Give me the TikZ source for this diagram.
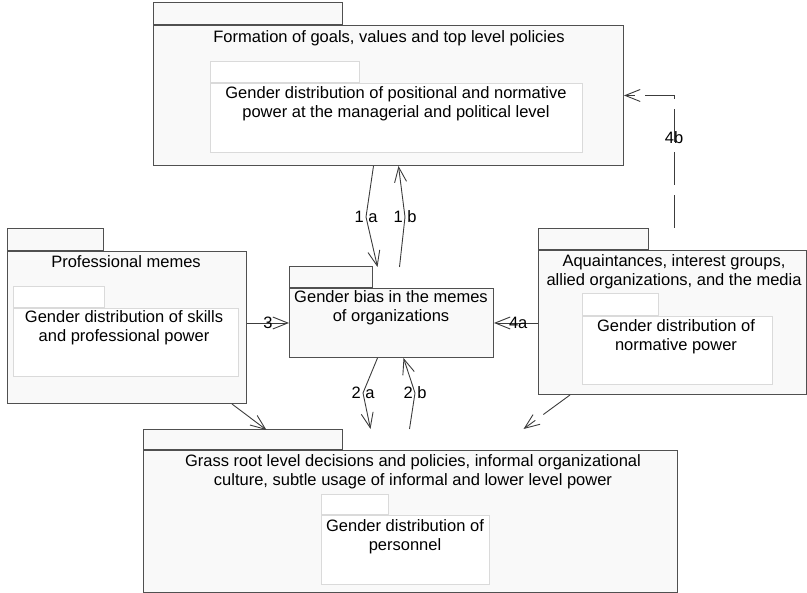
\documentclass[tikz,border=0pt]{standalone}
\usepackage{fontspec}
\setmainfont{Liberation Sans}
\usetikzlibrary{arrows.meta,calc}
\definecolor{pkgfill}{HTML}{F9F9F9}
\definecolor{pkgline}{HTML}{505050}
\definecolor{innerln}{HTML}{DADADA}
\definecolor{connln}{HTML}{3C3C3C}
\tikzset{
  outerb/.style  = {draw=pkgline, fill=pkgfill, line width=1pt, inner sep=0pt},
  innerb/.style  = {draw=innerln, fill=white, line width=1pt, inner sep=0pt},
  txt/.style     = {align=center, inner sep=0pt, font=\fontsize{16.5}{19}\selectfont},
  tag/.style     = {inner sep=0pt, font=\fontsize{16.5}{19}\selectfont},
  ar/.style      = {-{Straight Barb[length=15pt,width=12pt]}, draw=connln, line width=0.9pt},
  dashar/.style  = {ar, dash pattern=on 33pt off 10pt},
}

\begin{document}
\begin{tikzpicture}[x=1pt,y=-1pt]
\useasboundingbox (0,0) rectangle (807,593);

% \pkg{style}{name}{left}{tab top}{tab right}{body top}{right}{bottom}
\def\pkg#1#2#3#4#5#6#7#8{
  \draw[#1] (#3,#4) rectangle (#5,#6);
  \node[#1, anchor=north west, minimum width={(#7-#3)*1pt},
        minimum height={(#8-#6)*1pt}] (#2) at (#3,#6) {};}

% -- packages ----------------------------------------------------------------
\pkg{outerb}{goals}{153}{3}{342}{25}{623}{165}
\pkg{innerb}{goalsin}{210}{62}{359}{83}{582}{152}
\pkg{outerb}{memes}{7}{229}{103}{251}{246}{403}
\pkg{innerb}{memesin}{13}{287}{104}{308}{238}{376}
\pkg{outerb}{bias}{289}{267}{372}{288}{493}{357}
\pkg{outerb}{media}{538}{229}{648}{250}{806}{394}
\pkg{innerb}{mediain}{582}{294}{658}{316}{772}{384}
\pkg{outerb}{grass}{143}{430}{342}{450}{677}{592}
\pkg{innerb}{grassin}{321}{495}{388}{515}{489}{584}

% -- texts -------------------------------------------------------------------
\node[txt] (goalst) at (389,38) {Formation of goals, values and top level policies};
\node[txt] (goalsint) at (396,104) {Gender distribution of positional and normative\\
  power at the managerial and political level};
\node[txt] (memest) at (126,262) {Professional memes};
\node[txt] (memesint) at (124,328) {Gender distribution of skills\\and professional power};
\node[txt] (biast) at (391,308) {Gender bias in the memes\\of organizations};
\node[txt] (mediat) at (674,272) {Aquaintances, interest groups,\\
  allied organizations, and the media};
\node[txt] (mediaint) at (676,337) {Gender distribution of\\normative power};
\node[txt] (grasst) at (413,472) {Grass root level decisions and policies, informal organizational\\
  culture, subtle usage of informal and lower level power};
\node[txt] (grassint) at (405,537) {Gender distribution of\\personnel};

% -- connectors --------------------------------------------------------------
\coordinate (b1a) at (366,217);
\coordinate (b1b) at (405,217);
\coordinate (b2a) at (363,393);
\coordinate (b2b) at (415,393);
\draw[ar] ($(goals.south)+(-15,0)$) -- (b1a) node[tag]{1 a} -- ($(bias.north)+(-14,-21)$);
\draw[ar] ($(bias.north)+(8,-21)$) -- (b1b) node[tag]{1 b} -- ($(goals.south)+(10,0)$);
\draw[ar] ($(bias.south)+(-14,0)$) -- (b2a) node[tag]{2 a} -- ($(grass.north)+(-40,-21)$);
\draw[ar] ($(grass.north)+(-1,-21)$) -- (b2b) node[tag]{2 b} -- ($(bias.south)+(12,0)$);

\draw[ar] (memes.east |- bias.west) -- node[tag]{3} (bias.west);
\draw[ar] (media.west |- bias.east) -- node[tag, pos=0.45]{4a} (bias.east);

\coordinate (c4b) at ($(media.north west)+(136,-22)$);
\draw[dashar] (c4b) |- node[tag, pos=0.34]{4b} (goals.east);
\draw[dashar] ($(media.south west)+(32,0)$) -- ($(grass.north)+(113,-21)$);
\draw[ar] ($(memes.south east)+(-15,0)$) -- ($(grass.north)+(-144,-20)$);

\end{tikzpicture}
\end{document}
